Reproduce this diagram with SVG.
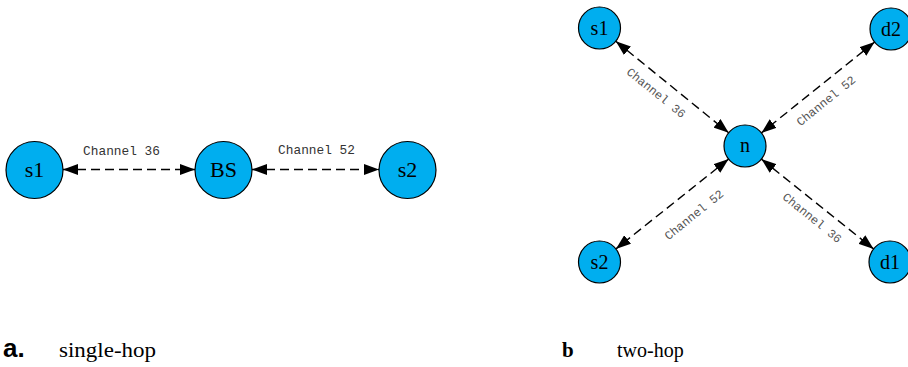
<svg xmlns="http://www.w3.org/2000/svg" width="908" height="367" viewBox="0 0 908 367">
<defs>
<marker id="ah" markerUnits="userSpaceOnUse" markerWidth="15" markerHeight="11" viewBox="0 0 15 11" refX="15" refY="5.5" orient="auto-start-reverse">
<path d="M0,0 L15,5.5 L0,11 z" fill="#000"/>
</marker>
</defs>
<style>
.node circle{fill:#00AEEF;stroke:#000;stroke-width:1.2}
.nl{font-family:"Liberation Serif",serif;text-anchor:middle;fill:#000}
.big{font-size:22px}
.small{font-size:20px}
.edge{stroke:#000;stroke-width:1.4;stroke-dasharray:9 5;fill:none;marker-start:url(#ah);marker-end:url(#ah)}
.lbl{font-family:"Liberation Mono",monospace;text-anchor:middle;dominant-baseline:central}
.l1{font-size:12.8px;fill:#333}
.l2{font-size:12px;fill:#555}
</style>
<rect width="908" height="367" fill="#fff"/>
<g id="connectors">
<line class="edge" x1="63" y1="169.5" x2="195" y2="169.5"/>
<line class="edge" x1="252" y1="169.5" x2="379" y2="169.5"/>
<line class="edge" x1="615.8" y1="41.2" x2="728.7" y2="132.8"/>
<line class="edge" x1="874.6" y1="42.1" x2="761.4" y2="132.9"/>
<line class="edge" x1="728.6" y1="159.1" x2="615.9" y2="248.9"/>
<line class="edge" x1="761.4" y1="159.1" x2="873.6" y2="248.9"/>
<text class="lbl l1" x="121.5" y="151">Channel 36</text>
<text class="lbl l1" x="316.5" y="150">Channel 52</text>
<text class="lbl l2" transform="translate(655.5 93.5) rotate(39)">Channel 36</text>
<text class="lbl l2" transform="translate(826.5 101.5) rotate(-39)">Channel 52</text>
<text class="lbl l2" transform="translate(694.5 215.5) rotate(-39)">Channel 52</text>
<text class="lbl l2" transform="translate(811.5 218.5) rotate(39)">Channel 36</text>
</g>
<g id="a-s1" class="node"><circle cx="34.5" cy="170" r="28.5"/><text class="nl big" x="34.5" y="177">s1</text></g>
<g id="a-BS" class="node"><circle cx="223.5" cy="170" r="28.5"/><text class="nl big" x="223.5" y="177">BS</text></g>
<g id="a-s2" class="node"><circle cx="407.5" cy="170" r="28.5"/><text class="nl big" x="407.5" y="177">s2</text></g>
<g id="b-s1" class="node"><circle cx="599.5" cy="28" r="21"/><text class="nl small" x="599.5" y="35">s1</text></g>
<g id="b-d2" class="node"><circle cx="891" cy="29" r="21"/><text class="nl small" x="891" y="36">d2</text></g>
<g id="b-n" class="node"><circle cx="745" cy="146" r="21"/><text class="nl small" x="745" y="152">n</text></g>
<g id="b-s2" class="node"><circle cx="599.5" cy="262" r="21"/><text class="nl small" x="599.5" y="269">s2</text></g>
<g id="b-d1" class="node"><circle cx="890" cy="262" r="21"/><text class="nl small" x="890" y="269">d1</text></g>
<g id="captions">
<text x="3" y="357" font-family="Liberation Sans, Arial, sans-serif" font-weight="bold" font-size="26">a.</text>
<text x="59" y="357" font-family="Liberation Serif, serif" font-size="21" textLength="97" lengthAdjust="spacingAndGlyphs">single-hop</text>
<text x="562" y="357" font-family="Liberation Serif, serif" font-weight="bold" font-size="21">b</text>
<text x="617" y="357" font-family="Liberation Serif, serif" font-size="20">two-hop</text>
</g>
</svg>
